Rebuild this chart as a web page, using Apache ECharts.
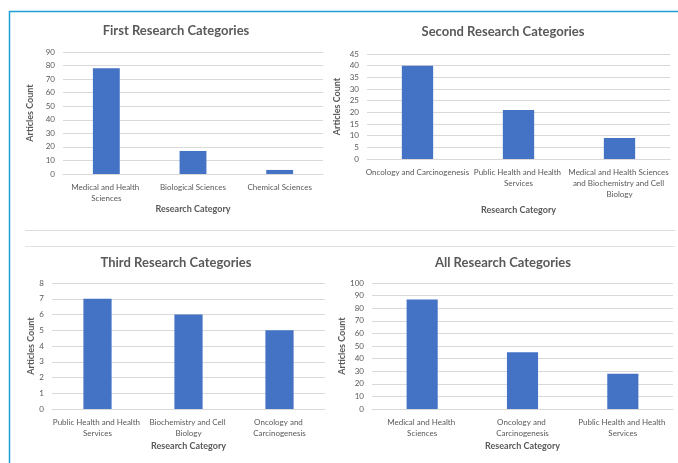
<!DOCTYPE html>
<html>
<head>
<meta charset="utf-8">
<script src="https://cdn.jsdelivr.net/npm/echarts@6/dist/echarts.min.js"></script>
<style>
html,body{margin:0;padding:0;background:#fff;}
#c{width:678px;height:463px;}
</style>
</head>
<body>
<div id="c"></div>
<script>
// ---- data ----
const titles = ['First Research Categories', 'Second Research Categories', 'Third Research Categories', 'All Research Categories'];
const cats1 = ['Medical and Health Sciences', 'Biological Sciences', 'Chemical Sciences'];
const vals1 = [78, 17, 3];
const cats2 = ['Oncology and Carcinogenesis', 'Public Health and Health Services', 'Medical and Health Sciences and Biochemistry and Cell Biology'];
const vals2 = [40, 21, 9];
const cats3 = ['Public Health and Health Services', 'Biochemistry and Cell Biology', 'Oncology and Carcinogenesis'];
const vals3 = [7, 6, 5];
const cats4 = ['Medical and Health Sciences', 'Oncology and Carcinogenesis', 'Public Health and Health Services'];
const vals4 = [87, 45, 28];
const yMax = [90, 45, 8, 100];
const yStep = [10, 5, 1, 10];
const xName = 'Research Category';
const yName = 'Articles Count';

// ---- layout / style ----
const FONT = 'Lato';
const TXT = '#595959';
const GRID = '#d9d9d9';
const BAR = '#4472C4';
const grids = [
  {left: 63, right: 355, top: 52, bottom: 289},
  {left: 367, right: 5, top: 54, bottom: 304},
  {left: 52, right: 353, top: 283, bottom: 54},
  {left: 372, right: 5, top: 283, bottom: 54}
];
const titlePos = [[176, 24], [503, 25], [176, 256], [503, 256]];
const labelWidth = [90, 112, 95, 95];
const xNameGap = [30, 47, 33, 33];
const yNameGap = [28, 25, 16, 25];
const allCats = [cats1, cats2, cats3, cats4];
const allVals = [vals1, vals2, vals3, vals4];

const chart = echarts.init(document.getElementById('c'), null, {renderer: 'canvas'});
const option = {
  backgroundColor: '#fff',
  animation: false,
  textStyle: {fontFamily: FONT},
  title: titles.map((t, i) => ({
    text: t, left: titlePos[i][0], top: titlePos[i][1], textAlign: 'center', padding: 0,
    textStyle: {fontFamily: FONT, fontSize: 13, fontWeight: 'bold', color: TXT}
  })),
  grid: grids.map(g => Object.assign({containLabel: false}, g)),
  xAxis: allCats.map((c, i) => ({
    type: 'category', gridIndex: i, data: c,
    name: xName, nameLocation: 'middle', nameGap: xNameGap[i],
    nameTextStyle: {fontFamily: FONT, fontSize: 9, fontWeight: 'bold', color: TXT},
    axisLine: {show: true, lineStyle: {color: GRID, width: 1}},
    axisTick: {show: false},
    axisLabel: {
      interval: 0, margin: 8, color: TXT, fontFamily: FONT, fontSize: 8, lineHeight: 11,
      width: labelWidth[i], overflow: 'break'
    }
  })),
  yAxis: yMax.map((m, i) => ({
    type: 'value', gridIndex: i, min: 0, max: m, interval: yStep[i],
    name: yName, nameLocation: 'middle', nameGap: yNameGap[i],
    nameTextStyle: {fontFamily: FONT, fontSize: 9, fontWeight: 'bold', color: TXT},
    axisLine: {show: false}, axisTick: {show: false},
    axisLabel: {margin: 8, color: TXT, fontFamily: FONT, fontSize: 8},
    splitLine: {show: true, lineStyle: {color: GRID, width: 1}}
  })),
  series: allVals.map((v, i) => ({
    type: 'bar', xAxisIndex: i, yAxisIndex: i, data: v, barWidth: '31%',
    itemStyle: {color: BAR}
  })),
  graphic: [
    {type: 'line', shape: {x1: 9.5, y1: 11.5, x2: 678, y2: 11.5}, style: {stroke: '#1f9fd5', lineWidth: 1.5}, silent: true},
    {type: 'line', shape: {x1: 9.5, y1: 11, x2: 9.5, y2: 463}, style: {stroke: '#1f9fd5', lineWidth: 1.5}, silent: true},
    {type: 'line', shape: {x1: 25, y1: 230.5, x2: 675, y2: 230.5}, style: {stroke: '#dcdcdc', lineWidth: 1}, silent: true},
    {type: 'line', shape: {x1: 25, y1: 246.5, x2: 675, y2: 246.5}, style: {stroke: '#e2e2e2', lineWidth: 1}, silent: true}
  ]
};
chart.setOption(option);
</script>
</body>
</html>
